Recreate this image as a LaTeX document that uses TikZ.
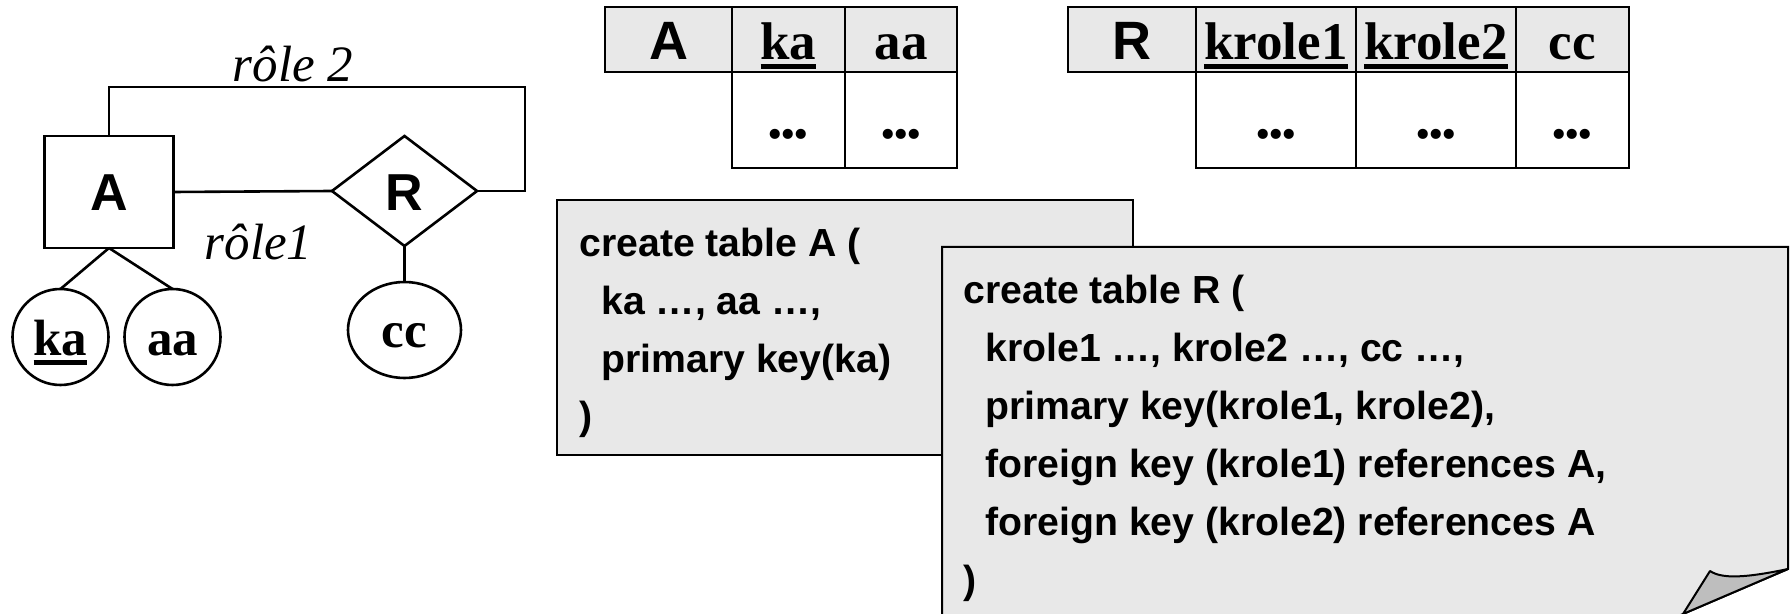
\documentclass[tikz,border=0pt]{standalone}
\usepackage{fontspec}
\setmainfont{Liberation Serif}
\setsansfont{Liberation Sans}
\usetikzlibrary{shapes.geometric}

\definecolor{boxgray}{HTML}{E8E8E8}
\definecolor{foldgray}{HTML}{BEBEBE}

% key attribute: word with a thick underline
\newcommand{\keyfield}[1]{\setbox0\hbox{#1}\rlap{\rule[-0.17em]{\wd0}{0.085em}}\box0}
% placeholder for column values: three heavy dots
\newcommand{\valdots}{.\kern-0.04em.\kern-0.04em.}

\tikzset{
  er/.style={line width=1.3pt},
  entity/.style={er, draw, rectangle, inner sep=0pt, outer sep=0pt,
    font=\sffamily\bfseries\fontsize{26pt}{30pt}\selectfont, text depth=0pt},
  relation/.style={er, draw, diamond, inner sep=0pt, outer sep=0pt,
    font=\sffamily\bfseries\fontsize{26pt}{30pt}\selectfont, text depth=0pt},
  attr/.style={er, draw, ellipse, inner sep=0pt, outer sep=0pt,
    font=\bfseries\fontsize{25.5pt}{30pt}\selectfont, text depth=0pt},
  rolelabel/.style={font=\itshape\fontsize{25.5pt}{30pt}\selectfont, anchor=base, inner sep=0pt},
  cell/.style={draw, line width=1pt, inner sep=0pt, outer sep=0pt, text depth=0pt},
  hcell/.style={cell, fill=boxgray, minimum height=32.5pt, text height=20.5pt},
  bcell/.style={cell, fill=white, minimum height=48pt, text height=19pt,
    font=\bfseries\fontsize{31pt}{34pt}\selectfont},
  hsans/.style={font=\sffamily\bfseries\fontsize{27pt}{30pt}\selectfont},
  hserif/.style={font=\bfseries\fontsize{26.5pt}{30pt}\selectfont},
  codebox/.style={draw, line width=1pt, fill=boxgray},
  code/.style={font=\sffamily\bfseries\fontsize{19.6pt}{23pt}\selectfont,
    anchor=base west, inner sep=0pt},
}

\begin{document}
\begin{tikzpicture}[x=0.5pt, y=-0.5pt]
\clip (0,0) rectangle (1790,614);

% ---------- entity-relationship schema ----------
\node[entity, minimum width=64.5pt, minimum height=56pt, text height=19pt] (A) at (109,192) {A};
\node[relation, minimum width=72.5pt, minimum height=55pt, text height=20pt] (R) at (404.5,191) {R};
\node[attr, minimum width=48pt, minimum height=48pt, text height=19pt] (ka) at (60.5,337) {\keyfield{ka}};
\node[attr, minimum width=48pt, minimum height=48pt, text height=19pt] (aa) at (172.5,337) {aa};
\node[attr, minimum width=56.5pt, minimum height=48pt, text height=18pt] (cc) at (404.5,330) {cc};

\coordinate (loop) at (525,87);
\draw[er] (A.east) -- (R.west);
\draw[er] (A.north) |- (loop) |- (R.east);
\draw[er] (A.south) -- (ka.north);
\draw[er] (A.south) -- (aa.north);
\draw[er] (R.south) -- (cc.north);

\node[rolelabel] (role2) at (293,82) {rôle 2};
\node[rolelabel] (role1) at (258.5,260) {rôle1};

% ---------- relational table A ----------
\node[hcell, hsans, minimum width=63.5pt] (tA) at (668.5,39.5) {A};
\node[hcell, hserif, minimum width=56.5pt] (tAka) at (788.5,39.5) {\keyfield{ka}};
\node[hcell, hserif, minimum width=56pt] (tAaa) at (901,39.5) {aa};
\node[bcell, minimum width=56.5pt] (vAka) at (788.5,120) {\valdots};
\node[bcell, minimum width=56pt] (vAaa) at (901,120) {\valdots};

% ---------- relational table R ----------
\node[hcell, hsans, minimum width=64pt] (tR) at (1132,39.5) {R};
\node[hcell, hserif, minimum width=80pt] (tRk1) at (1276,39.5) {\keyfield{krole1}};
\node[hcell, hserif, minimum width=80pt] (tRk2) at (1436,39.5) {\keyfield{krole2}};
\node[hcell, hserif, minimum width=56.5pt] (tRcc) at (1572.5,39.5) {cc};
\node[bcell, minimum width=80pt] (vRk1) at (1276,120) {\valdots};
\node[bcell, minimum width=80pt] (vRk2) at (1436,120) {\valdots};
\node[bcell, minimum width=56.5pt] (vRcc) at (1572.5,120) {\valdots};

% ---------- SQL for table A ----------
\node[codebox, minimum width=287.75pt, minimum height=127.75pt, inner sep=0pt] (sqlA) at (844.75,327.75) {};
\node[code] (a1) at (579,257) {create table A (};
\node[code] (a2) at (601,315) {ka …, aa …,};
\node[code] (a3) at (601,373) {primary key(ka)};
\node[code] (a4) at (579,430) {)};

% ---------- SQL for table R, page with curled corner ----------
\coordinate (sqlRnw) at (942,247);
\coordinate (sqlRne) at (1788,247);
\coordinate (curlTop) at (1788,569);
\coordinate (curlTip) at (1683,614);
\coordinate (curlIn) at (1710,571);
\draw[codebox] (sqlRnw) -- (sqlRne) -- (curlTop) -- (curlTip) -- (1646,630) -- (942,630) -- cycle;
\filldraw[line width=1pt, fill=foldgray, line join=round]
  (curlTip) -- (curlIn) .. controls (1722,579) and (1745,578) .. (curlTop) -- cycle;

\node[code] (r1) at (963,304) {create table R (};
\node[code] (r2) at (985,362) {krole1 …, krole2 …, cc …,};
\node[code] (r3) at (985,420) {primary key(krole1, krole2),};
\node[code] (r4) at (985,478) {foreign key (krole1) references A,};
\node[code] (r5) at (985,536) {foreign key (krole2) references A};
\node[code] (r6) at (963,594) {)};
\end{tikzpicture}
\end{document}
